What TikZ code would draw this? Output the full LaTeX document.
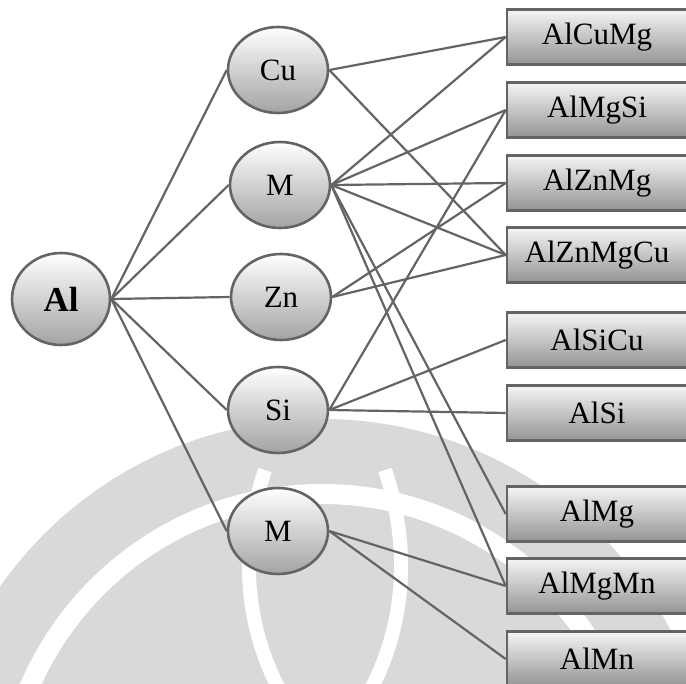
\documentclass[tikz,border=0pt]{standalone}
\usepackage{fontspec}
\setmainfont{Liberation Serif}
\usepackage{tikz}
\usetikzlibrary{shapes.geometric}
\definecolor{edgegray}{HTML}{646464}
\definecolor{markgray}{HTML}{D9D9D9}
\tikzset{
    elem/.style={ellipse, draw=edgegray, line width=2.6pt, top color=white, bottom color=black!36, minimum width=100pt, minimum height=86pt, inner sep=0pt, font=\fontsize{31}{33}\selectfont},
    basenode/.style={elem, minimum width=98pt, minimum height=92pt, font=\fontsize{35}{37}\selectfont\bfseries},
    alloy/.style={rectangle, draw=edgegray, line width=2.6pt, top color=black!4, bottom color=black!42, minimum width=180pt, minimum height=55pt, inner sep=0pt, font=\fontsize{31}{33}\selectfont},
    link/.style={draw=edgegray, line width=2.2pt},
    wmark/.style={fill=markgray},
    wgap/.style={draw=white, line width=20pt}
}

\begin{document}
\begin{tikzpicture}[x=1pt, y=-1pt]
    \useasboundingbox (0,0) rectangle (686,684);

    % watermark behind the diagram
    \begin{scope}
        \clip (0,0) rectangle (686,684);
        \fill[wmark] (322,812) circle (393);
        \draw[wgap] (322,812) circle (318);
        \draw[wgap, line width=14pt] (265,470) .. controls (235,560) and (250,640) .. (285,700);
        \draw[wgap, line width=14pt] (385,470) .. controls (415,560) and (400,640) .. (365,700);
    \end{scope}

    \node[basenode] (al) at (61,299) {Al};

    \node[elem] (cu) at (278,70) {Cu};
    \node[elem] (m1) at (280,185) {M};
    \node[elem] (zn) at (281,297) {Zn};
    \node[elem] (si) at (278,410) {Si};
    \node[elem] (m2) at (278,531) {M};

    \node[alloy] (alcumg) at (597,37) {AlCuMg};
    \node[alloy] (almgsi) at (597,110) {AlMgSi};
    \node[alloy] (alznmg) at (597,183) {AlZnMg};
    \node[alloy] (alznmgcu) at (597,255) {AlZnMgCu};
    \node[alloy] (alsicu) at (597,340) {AlSiCu};
    \node[alloy] (alsi) at (597,413) {AlSi};
    \node[alloy] (almg) at (597,514) {AlMg};
    \node[alloy] (almgmn) at (597,586) {AlMgMn};
    \node[alloy] (almn) at (597,659) {AlMn};

    \draw[link] (al.east) -- (cu.west);
    \draw[link] (al.east) -- (m1.west);
    \draw[link] (al.east) -- (zn.west);
    \draw[link] (al.east) -- (si.west);
    \draw[link] (al.east) -- (m2.west);

    \draw[link] (cu.east) -- (alcumg.west);
    \draw[link] (cu.east) -- (alznmgcu.west);

    \draw[link] (m1.east) -- (alcumg.west);
    \draw[link] (m1.east) -- (almgsi.west);
    \draw[link] (m1.east) -- (alznmg.west);
    \draw[link] (m1.east) -- (alznmgcu.west);
    \draw[link] (m1.east) -- (almg.west);
    \draw[link] (m1.east) -- (almgmn.west);

    \draw[link] (zn.east) -- (alznmg.west);
    \draw[link] (zn.east) -- (alznmgcu.west);

    \draw[link] (si.east) -- (almgsi.west);
    \draw[link] (si.east) -- (alsicu.west);
    \draw[link] (si.east) -- (alsi.west);

    \draw[link] (m2.east) -- (almgmn.west);
    \draw[link] (m2.east) -- (almn.west);
\end{tikzpicture}
\end{document}
